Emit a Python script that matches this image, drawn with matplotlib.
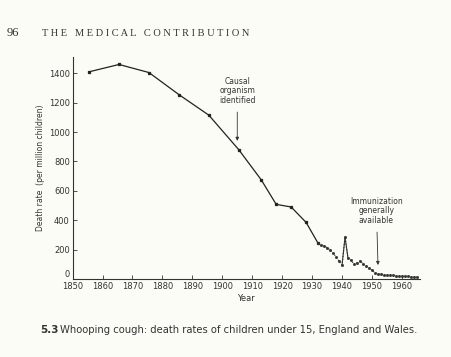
import matplotlib.pyplot as plt

# decade / quinquennial averages (solid line)
early_years = [1855.5, 1865.5, 1875.5, 1885.5, 1895.5, 1905.5, 1913, 1918, 1923, 1928, 1932]
early_rates = [1410, 1460, 1405, 1255, 1115, 880, 675, 508, 490, 385, 243]

# annual rates (dotted line)
annual_years = [1932, 1933, 1934, 1935, 1936, 1937, 1938, 1939, 1940, 1941, 1942,
                1943, 1944, 1945, 1946, 1947, 1948, 1949, 1950, 1951, 1952, 1953,
                1954, 1955, 1956, 1957, 1958, 1959, 1960, 1961, 1962, 1963, 1964, 1965]
annual_rates = [243, 230, 224, 214, 198, 175, 150, 120, 95, 285, 140,
                128, 100, 112, 122, 105, 88, 72, 60, 43, 35, 32,
                30, 28, 26, 25, 23, 21, 20, 19, 17, 16, 15, 14]

xticks = list(range(1850, 1961, 10))
yticks = list(range(0, 1401, 200))

bg = '#fcfcf7'
ink = '#333333'
fig = plt.figure(figsize=(4.51, 3.57), dpi=100, facecolor=bg)
ax = fig.add_axes([0.161, 0.2185, 0.77, 0.6215], facecolor=bg)

ax.plot(early_years, early_rates, color='#222222', lw=0.9, marker='s', ms=1.4)
ax.plot(annual_years, annual_rates, color='#333333', lw=0.8, ls=':', marker='s', ms=1.0)
ax.plot(annual_years[8:11], annual_rates[8:11], color='#333333', lw=0.8)

ax.set_xlim(1850, 1966)
ax.set_ylim(0, 1510)
ax.set_xticks(xticks)
ax.set_yticks(yticks)
ax.tick_params(direction='in', length=3, width=0.6, labelsize=6, colors=ink, pad=2)
ax.get_yticklabels()[0].set_verticalalignment('bottom')
for s in ['top', 'right']:
    ax.spines[s].set_visible(False)
for s in ['left', 'bottom']:
    ax.spines[s].set_linewidth(0.8)
    ax.spines[s].set_color(ink)

ax.set_xlabel('Year', fontsize=6, color=ink, labelpad=2)
ax.set_ylabel('Death rate  (per million children)', fontsize=5.5, color=ink, labelpad=3)

ax.annotate('Causal\norganism\nidentified', xy=(1905, 940), xytext=(1905, 1280),
            ha='center', va='center', fontsize=5.5, color=ink, linespacing=1.1,
            arrowprops=dict(arrowstyle='-|>', color=ink, lw=0.6, mutation_scale=5,
                            shrinkA=3, shrinkB=0))
ax.annotate('Immunization\ngenerally\navailable', xy=(1952, 95), xytext=(1951.5, 463),
            ha='center', va='center', fontsize=5.5, color=ink, linespacing=1.1,
            arrowprops=dict(arrowstyle='-|>', color=ink, lw=0.6, mutation_scale=5,
                            shrinkA=3, shrinkB=0))

fig.text(0.015, 0.907, '96', fontsize=9, family='Liberation Serif', color=ink, va='center')
fig.text(0.093, 0.907, 'T H E   M E D I C A L   C O N T R I B U T I O N', fontsize=7.5,
         family='Liberation Serif', color=ink, va='center')
fig.text(0.088, 0.075, '5.3', fontsize=7.5, fontweight='bold', color=ink, va='center')
fig.text(0.133, 0.075, 'Whooping cough: death rates of children under 15, England and Wales.',
         fontsize=7.2, color=ink, va='center')

plt.savefig('out.png', dpi=100, facecolor=bg)
